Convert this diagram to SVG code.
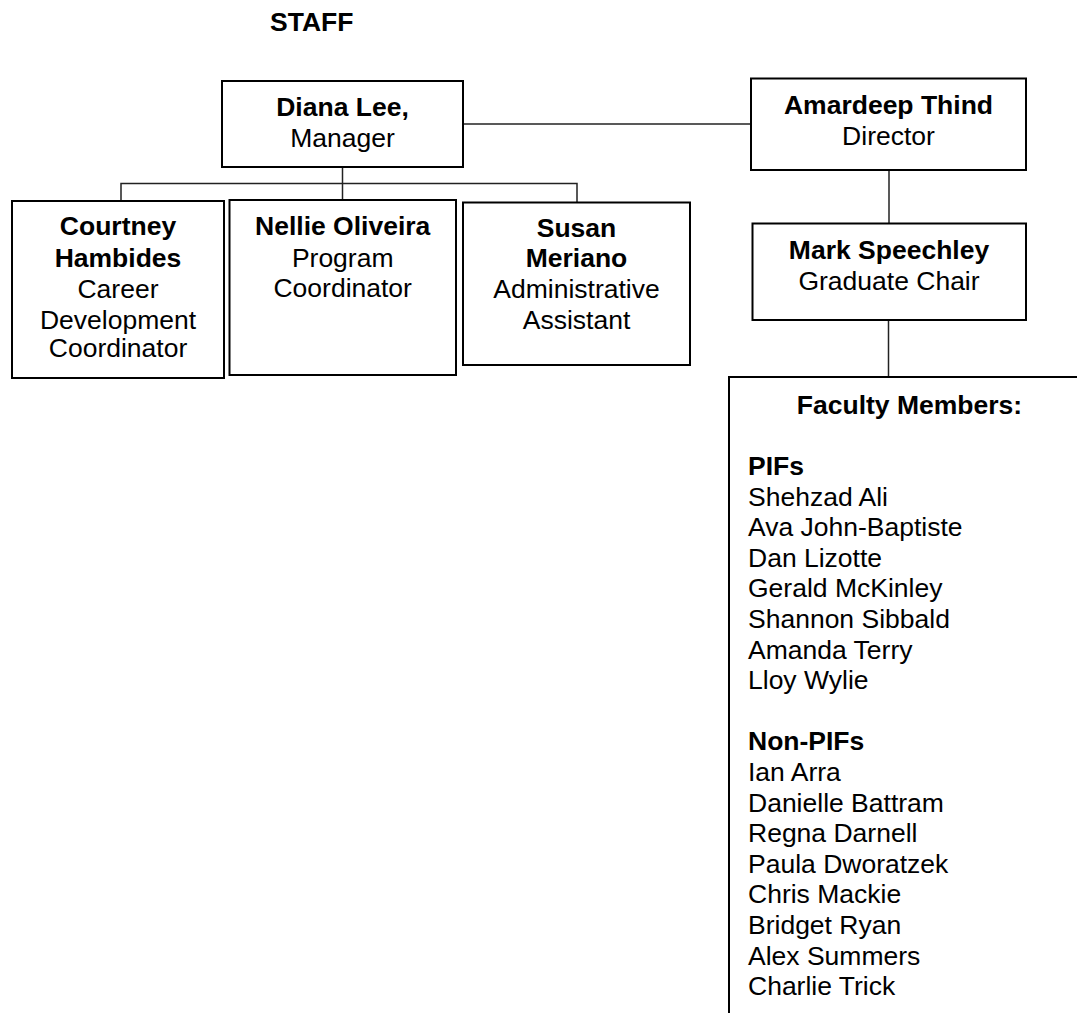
<svg xmlns="http://www.w3.org/2000/svg" width="1077" height="1013" viewBox="0 0 1077 1013">
  <style>
    .box { fill: #fff; stroke: #000; stroke-width: 2; }
    .link { fill: none; stroke: #222; stroke-width: 1.5; }
    text { font-family: "Liberation Sans", Arial, sans-serif; font-size: 26.5px; fill: #000; }
    .c { text-anchor: middle; }
    .b { font-weight: bold; }
  </style>

  <rect width="1077" height="1013" fill="#fff"/>

  <text class="b" x="270" y="31">STAFF</text>

  <!-- connectors -->
  <g id="connectors">
    <line class="link" x1="463" y1="124" x2="751" y2="124"/>
    <line class="link" x1="342.5" y1="167" x2="342.5" y2="200"/>
    <polyline class="link" points="121,201 121,183.5 577,183.5 577,202"/>
    <line class="link" x1="889" y1="170" x2="889" y2="223"/>
    <line class="link" x1="888.5" y1="320" x2="888.5" y2="377"/>
  </g>

  <g id="diana-lee">
    <rect class="box" x="222" y="81" width="241" height="86"/>
    <text class="c b" x="342.5" y="116">Diana Lee,</text>
    <text class="c" x="342.5" y="147">Manager</text>
  </g>

  <g id="amardeep-thind">
    <rect class="box" x="751" y="78.5" width="275" height="91.5"/>
    <text class="c b" x="888.5" y="114">Amardeep Thind</text>
    <text class="c" x="888.5" y="144.5">Director</text>
  </g>

  <g id="mark-speechley">
    <rect class="box" x="752.5" y="223.5" width="273.5" height="96.5"/>
    <text class="c b" x="889" y="258.5">Mark Speechley</text>
    <text class="c" x="889" y="290">Graduate Chair</text>
  </g>

  <g id="courtney-hambides">
    <rect class="box" x="12" y="201" width="212" height="177"/>
    <text class="c b" x="118" y="235">Courtney</text>
    <text class="c b" x="118" y="266.5">Hambides</text>
    <text class="c" x="118" y="298">Career</text>
    <text class="c" x="118" y="328.5">Development</text>
    <text class="c" x="118" y="357">Coordinator</text>
  </g>

  <g id="nellie-oliveira">
    <rect class="box" x="229.5" y="200" width="226.5" height="175"/>
    <text class="c b" x="342.7" y="235">Nellie Oliveira</text>
    <text class="c" x="342.7" y="266.5">Program</text>
    <text class="c" x="342.7" y="297">Coordinator</text>
  </g>

  <g id="susan-meriano">
    <rect class="box" x="463" y="202.5" width="227" height="162.5"/>
    <text class="c b" x="576.5" y="236.5">Susan</text>
    <text class="c b" x="576.5" y="267">Meriano</text>
    <text class="c" x="576.5" y="298">Administrative</text>
    <text class="c" x="576.5" y="328.5">Assistant</text>
  </g>

  <!-- faculty list: open-ended box running off the right and bottom edges -->
  <g id="faculty-members">
    <polyline fill="none" stroke="#000" stroke-width="2" points="729,1013 729,377 1077,377"/>
    <text class="c b" x="909.5" y="413.5">Faculty Members:</text>
    <text class="b" x="748" y="475">PIFs</text>
    <text x="748" y="505.6">Shehzad Ali</text>
    <text x="748" y="536.2">Ava John-Baptiste</text>
    <text x="748" y="566.8">Dan Lizotte</text>
    <text x="748" y="597.4">Gerald McKinley</text>
    <text x="748" y="628">Shannon Sibbald</text>
    <text x="748" y="658.6">Amanda Terry</text>
    <text x="748" y="689.2">Lloy Wylie</text>
    <text class="b" x="748" y="750.4">Non-PIFs</text>
    <text x="748" y="781">Ian Arra</text>
    <text x="748" y="811.6">Danielle Battram</text>
    <text x="748" y="842.2">Regna Darnell</text>
    <text x="748" y="872.8">Paula Dworatzek</text>
    <text x="748" y="903.4">Chris Mackie</text>
    <text x="748" y="934">Bridget Ryan</text>
    <text x="748" y="964.6">Alex Summers</text>
    <text x="748" y="995.2">Charlie Trick</text>
  </g>
</svg>
